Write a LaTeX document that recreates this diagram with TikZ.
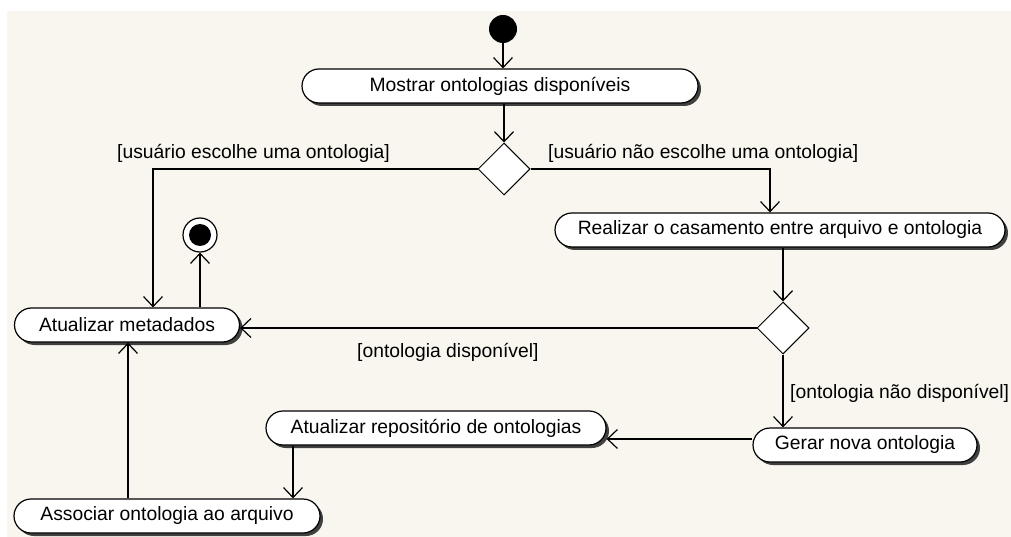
\documentclass[tikz,border=0pt]{standalone}
\usepackage{fontspec}
\setmainfont{Liberation Sans}
\usetikzlibrary{shapes.misc,shapes.geometric,shadows,arrows.meta,calc}
\definecolor{bgcream}{RGB}{248,246,238}
\begin{document}
\begin{tikzpicture}[x=1pt,y=-1pt,
  act/.style={rounded rectangle, draw, line width=1.2pt, fill=white, minimum height=34pt, inner sep=0pt,
    font=\fontsize{19.3}{22}\selectfont,
    drop shadow={shadow xshift=3pt, shadow yshift=-3pt, fill=black!75, opacity=1}},
  dec/.style={diamond, draw, line width=1pt, fill=white, minimum width=52pt, minimum height=52pt, inner sep=0pt},
  arr/.style={line width=1.2pt, -{Straight Barb[length=10pt,width=19pt,line width=1.2pt]}},
  guard/.style={anchor=west, inner sep=0pt, font=\fontsize{19.3}{22}\selectfont}]
\useasboundingbox (0,0) rectangle (1011,537);
\fill[white] (0,0) rectangle (1011,537);
\fill[bgcream] (7,11) rectangle (1011,537);

% nodes
\node[circle, fill=black, minimum size=28pt, inner sep=0pt] (start) at (503,29) {};
\node[act, minimum width=396pt] (mostrar) at (500,86) {Mostrar ontologias disponíveis};
\node[dec] (d1) at (504,169) {};
\node[act, minimum width=450pt] (realizar) at (780,230) {Realizar o casamento entre arquivo e ontologia};
\node[dec] (d2) at (783,328) {};
\node[act, minimum width=225pt] (metadados) at (127,325) {Atualizar metadados};
\node[circle, draw, fill=white, line width=1.2pt, minimum size=34pt, inner sep=0pt] (final) at (200,235) {};
\fill[black] (final.center) circle (11pt);
\node[act, minimum width=340pt] (repositorio) at (436,428) {Atualizar repositório de ontologias};
\node[act, minimum width=224pt] (gerar) at (865,445) {Gerar nova ontologia};
\node[act, minimum width=306pt] (associar) at (167,516) {Associar ontologia ao arquivo};

% connectors
\draw[arr] (start.south) -- (start.south |- mostrar.north);
\draw[arr] (d1.north |- mostrar.south) -- (d1.north);
\draw[arr] (d1.west) -| ([xshift=26pt]metadados.north);
\draw[arr] (d1.east) -| ([xshift=-10pt]realizar.north);
\draw[arr] (d2.north |- realizar.south) -- (d2.north);
\draw[arr] (d2.west) -- (d2.west -| metadados.east);
\draw[arr] (d2.south) -- (d2.south |- gerar.north);
\path (gerar.west) ++(0,-6) coordinate (g1);
\draw[arr] (g1) -- (g1 -| repositorio.east);
\draw[arr] ([xshift=126pt]associar.north |- repositorio.south) -- ([xshift=126pt]associar.north);
\draw[arr] ([xshift=-39pt]associar.north) -- ([xshift=-39pt]associar.north |- metadados.south);
\draw[arr] ([xshift=73pt]metadados.north) -- (final.south);

% guards
\node[guard] (g-escolhe) at (117,153) {[usuário escolhe uma ontologia]};
\node[guard] (g-naoescolhe) at (548,153) {[usuário não escolhe uma ontologia]};
\node[guard] (g-disp) at (357,352) {[ontologia disponível]};
\node[guard] (g-naodisp) at (790,393) {[ontologia não disponível]};
\end{tikzpicture}
\end{document}
